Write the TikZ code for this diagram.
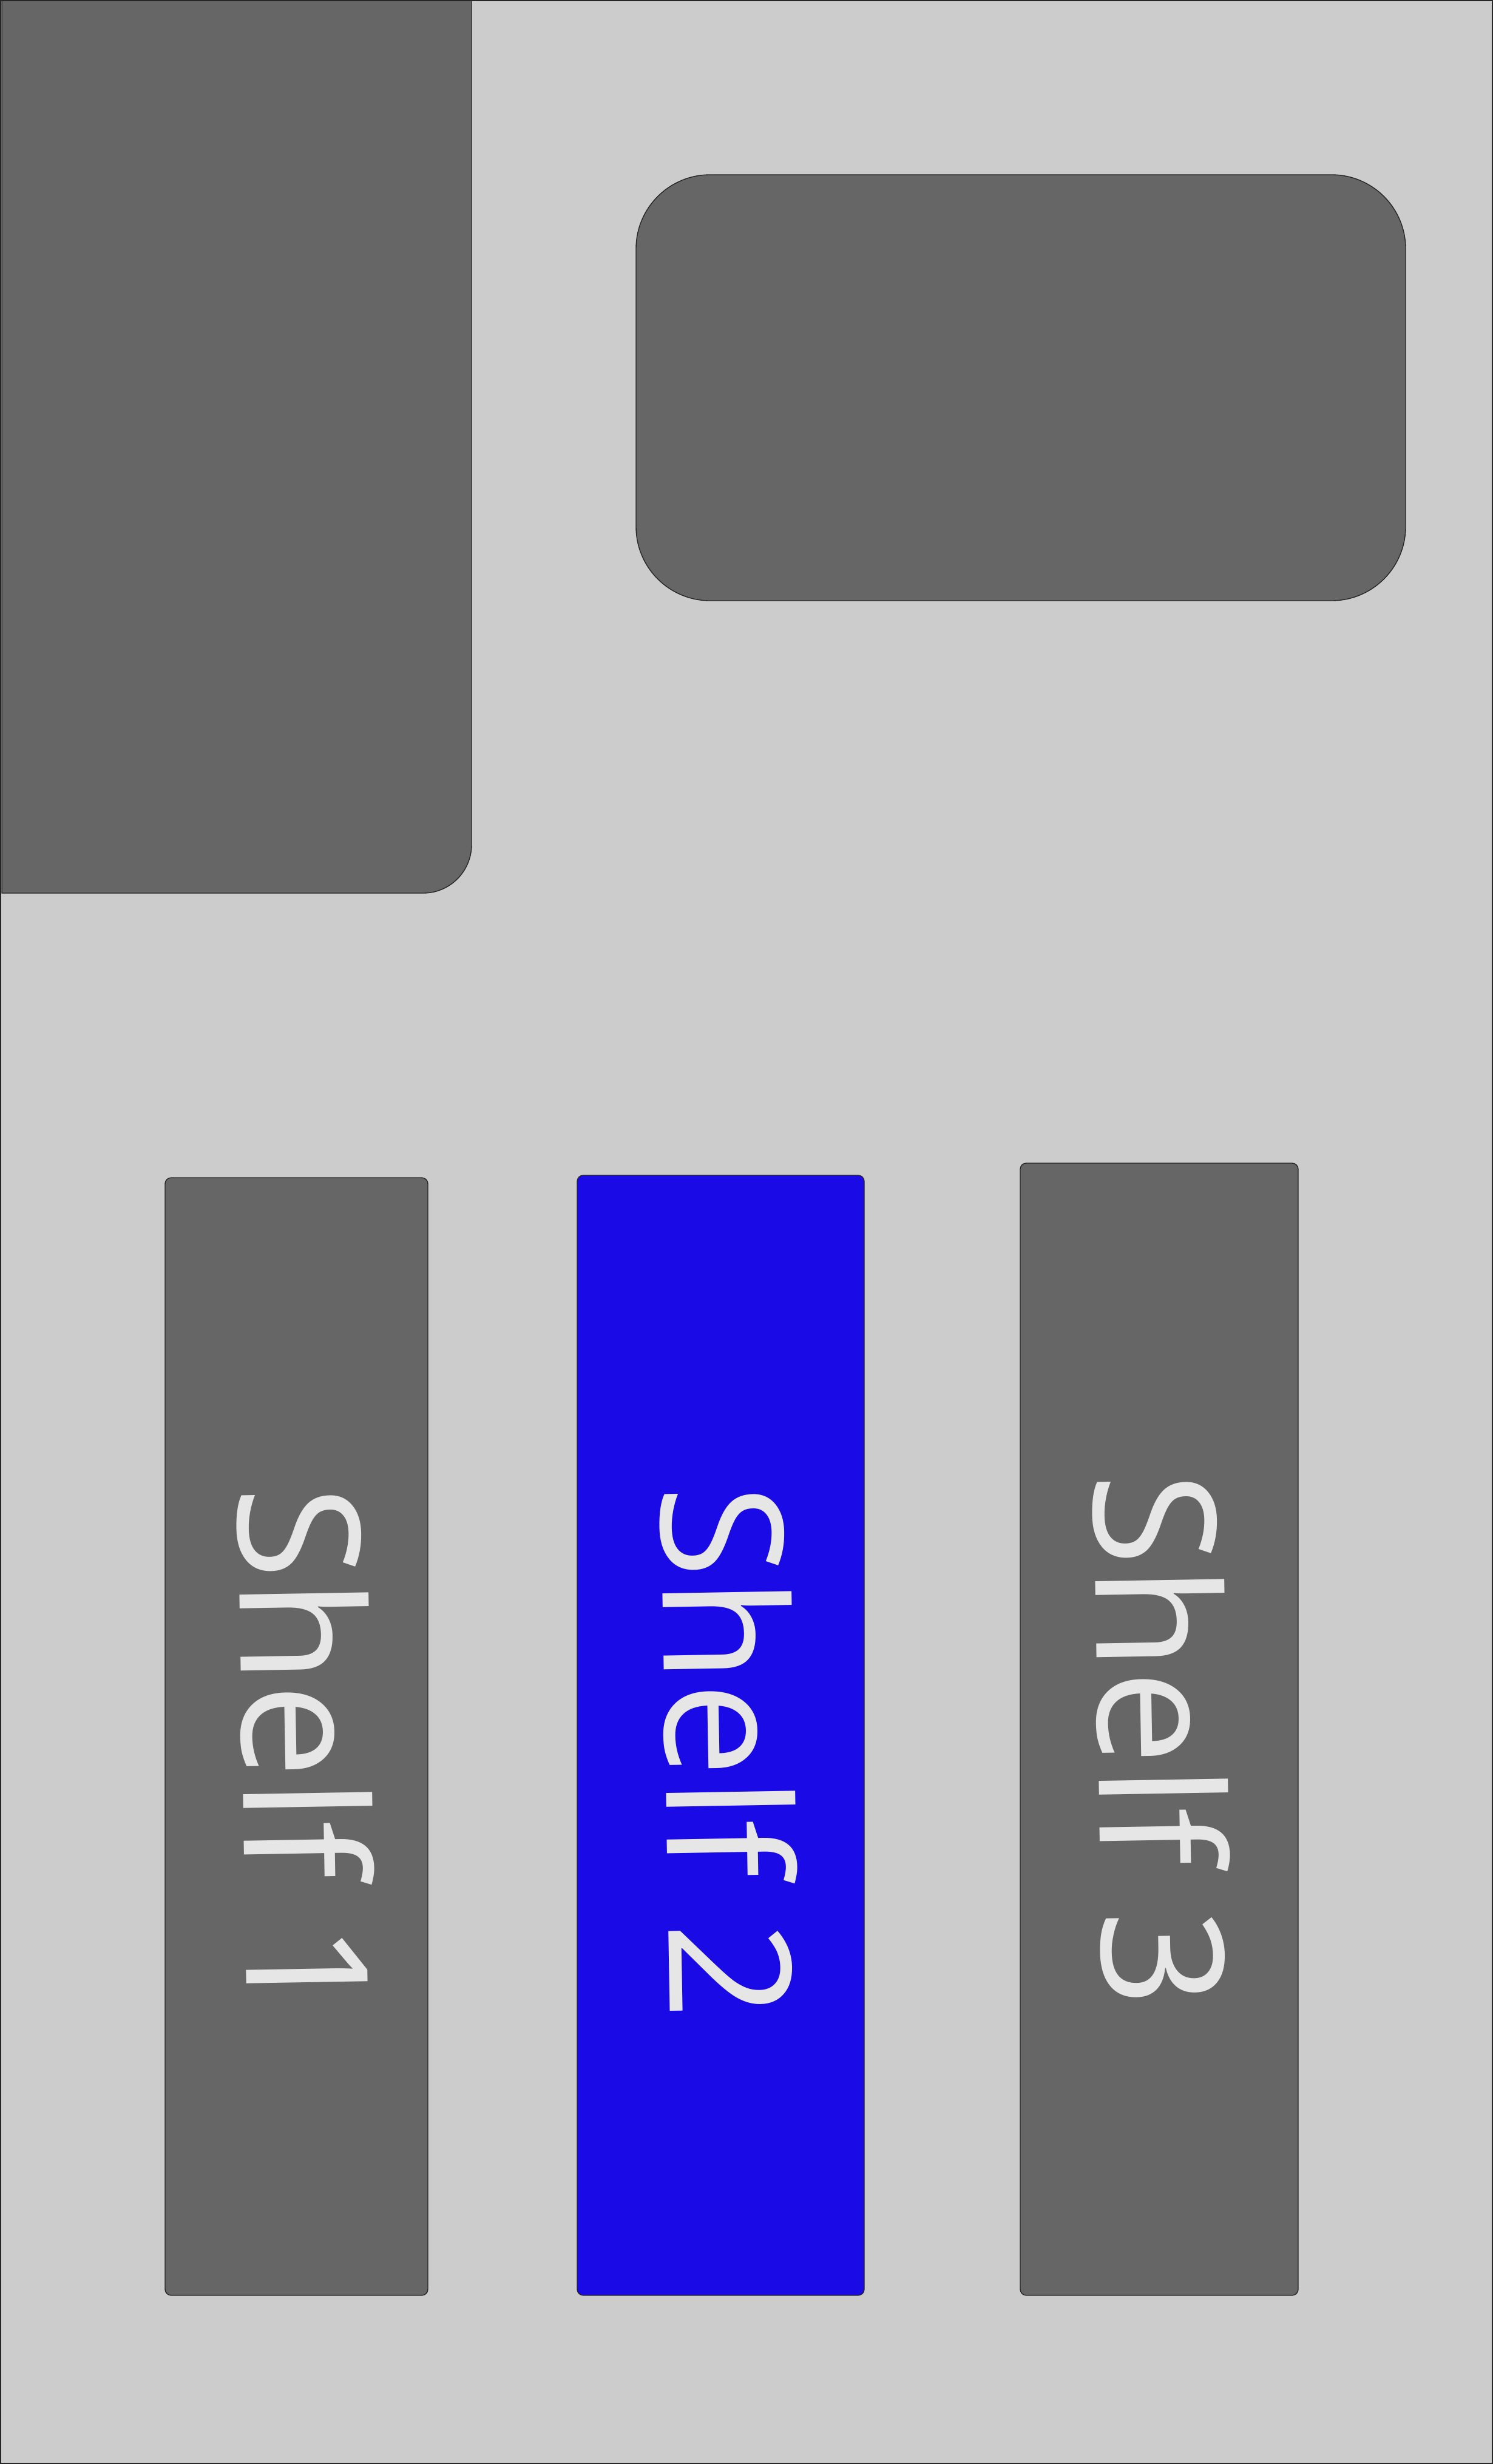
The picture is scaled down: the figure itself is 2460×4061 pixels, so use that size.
\documentclass[tikz,border=0pt]{standalone}
\usepackage{fontspec}
\setmainfont{Open Sans}
\definecolor{bgc}{HTML}{CCCCCC}
\definecolor{boxc}{HTML}{666666}
\definecolor{bluec}{HTML}{1A0AE6}
\definecolor{txtc}{HTML}{E6E6E6}
\begin{document}
\begin{tikzpicture}[x=0.5pt,y=-0.5pt,
  blk/.style={fill=boxc,draw=black!85,line width=0.7pt},
  shelfbox/.style={draw=black!85,line width=0.7pt,rounded corners=5pt},
  shelftext/.style={text=txtc,font=\fontsize{140}{164}\selectfont,rotate=-89,inner sep=0pt}]
\useasboundingbox (0,0) rectangle (2460,4061);
\fill[bgc] (0,0) rectangle (2460,4061);
% top-left block
\draw[blk] (3,0) -- (777,0) [rounded corners=40pt] -- (777,1472) [sharp corners] -- (3,1472) -- cycle;
% top-right block
\draw[blk,rounded corners=61pt] (1048,288) rectangle (2316,990);
% shelves
\draw[shelfbox,fill=boxc] (272,1941) rectangle (705,3783);
\draw[shelfbox,fill=bluec] (951,1937) rectangle (1424,3783);
\draw[shelfbox,fill=boxc] (1681,1917) rectangle (2139,3783);
\node[shelftext] (s1) at (505,2889) {Shelf 1};
\node[shelftext] (s2) at (1202,2887) {Shelf 2};
\node[shelftext] (s3) at (1915,2867) {Shelf 3};
% outer frame
\draw[black!85,line width=0.7pt] (1,1) rectangle (2459,4060);
\end{tikzpicture}
\end{document}
